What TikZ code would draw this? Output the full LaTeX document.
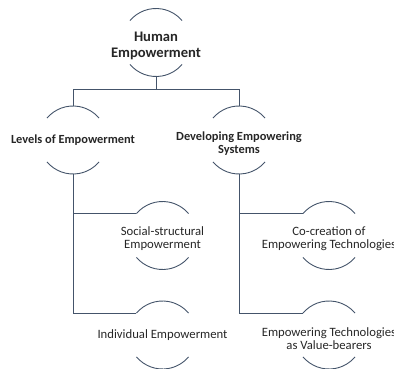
\documentclass[tikz,border=0pt]{standalone}
\usepackage{fontspec}
\setmainfont{Carlito}
\usetikzlibrary{positioning}
\definecolor{lnc}{HTML}{44546A}
\definecolor{txc}{HTML}{262626}
\tikzstyle{ring}=[circle,draw=none,minimum size=68pt,inner sep=0pt,outer sep=0pt]
\tikzstyle{ln}=[draw=lnc,line width=0.9pt]
\tikzstyle{hdtxt}=[font=\fontsize{14.6}{15.6}\selectfont\bfseries,align=center,text=txc,inner sep=0pt,yshift=-3.5pt]
\tikzstyle{lvtxt}=[font=\fontsize{12.4}{12.6}\selectfont\bfseries,align=center,text=txc,inner sep=0pt]
\tikzstyle{lftxt}=[font=\fontsize{12.7}{12.8}\selectfont,align=center,text=txc,inner sep=0pt]
\begin{document}
\begin{tikzpicture}[x=1pt,y=-1pt]
    \useasboundingbox (0,0) rectangle (394,369);
    \node (hum) [ring,label={[hdtxt]center:Human\\Empowerment}] at (156,42.5) {};
    \node (lev) [ring,label={[lvtxt,yshift=-0.5pt]center:Levels of Empowerment}] at (73,140) {};
    \node (dev) [ring,label={[lvtxt,yshift=-3.5pt]center:Developing Empowering\\Systems}] at (239,140) {};
    \node (soc) [ring,label={[lftxt,yshift=-3.5pt]center:Social-structural\\Empowerment}] at (162.5,235.5) {};
    \node (ind) [ring,label={[lftxt,yshift=-0.5pt]center:Individual Empowerment}] at (162.5,335) {};
    \node (coc) [ring,label={[lftxt,yshift=-3.5pt]center:Co-creation of\\Empowering Technologies}] at (329,235.5) {};
    \node (val) [ring,label={[lftxt,yshift=-3.5pt]center:Empowering Technologies\\as Value-bearers}] at (329,335) {};

    % open rings: only the top and bottom arcs show
    \foreach \n in {hum,lev,dev,soc,ind,coc,val}
      \draw[ln] (\n.140) arc[start angle=140,end angle=40,radius=34pt]
                (\n.220) arc[start angle=220,end angle=320,radius=34pt];

    \draw[ln] (hum.south) -- ++(0,13) -| (lev.north);
    \draw[ln] (hum.south) -- ++(0,13) -| (dev.north);
    \draw[ln] (lev.south) |- (soc.140);
    \draw[ln] (lev.south) |- (ind.140);
    \draw[ln] (dev.south) |- (coc.140);
    \draw[ln] (dev.south) |- (val.140);
\end{tikzpicture}
\end{document}
